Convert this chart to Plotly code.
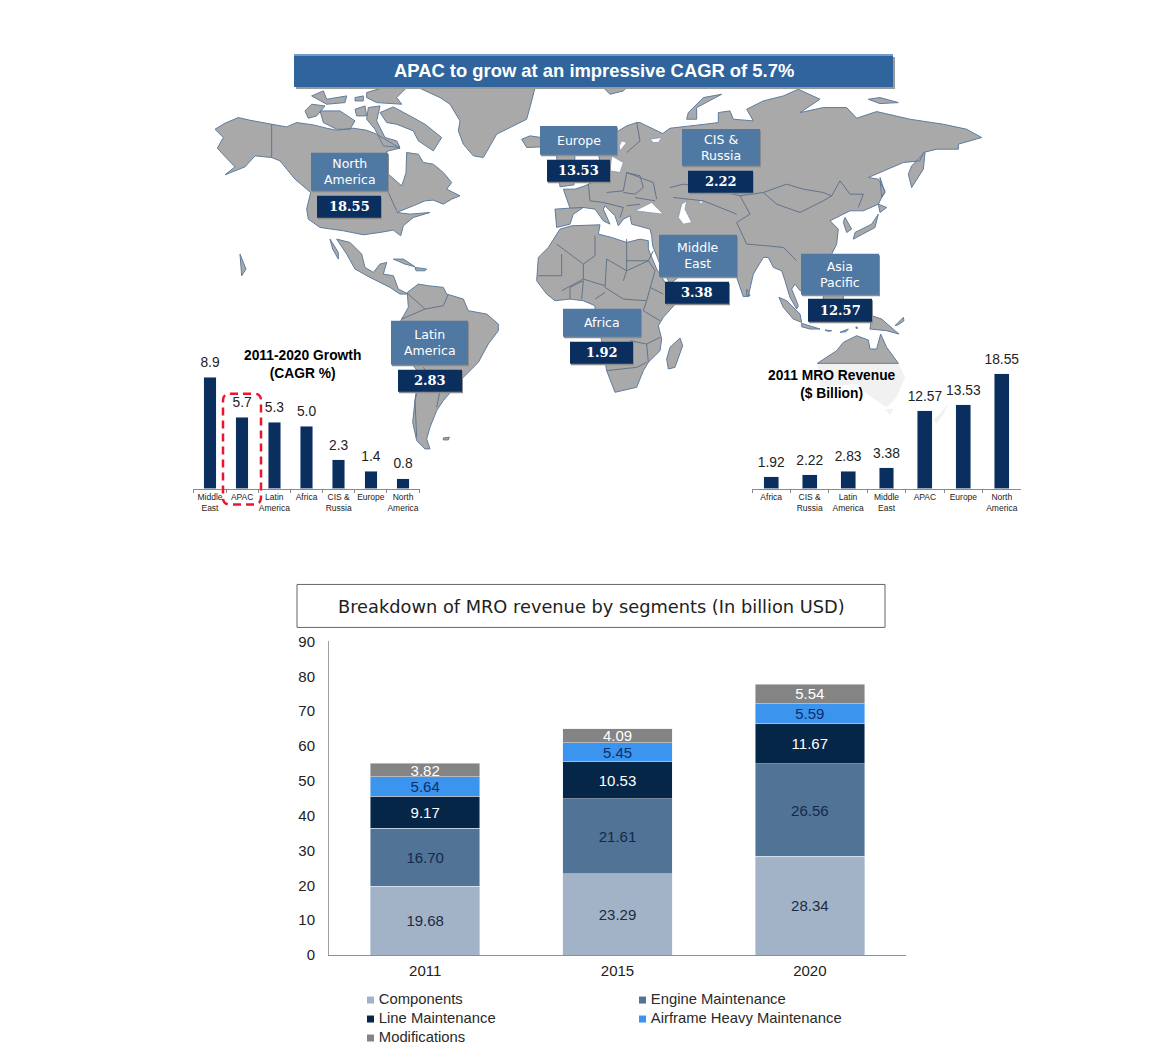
import plotly.graph_objects as go

W, H = 1175, 1058
# the page draws the figure between these two rows of the window
TOP, BOTTOM = 8, 1050

# ---------- data ----------
cagr_regions = ["Middle<br>East", "APAC", "Latin<br>America", "Africa", "CIS &<br>Russia", "Europe", "North<br>America"]
cagr_values = [8.9, 5.7, 5.3, 5.0, 2.3, 1.4, 0.8]

revenue_regions = ["Africa", "CIS &<br>Russia", "Latin<br>America", "Middle<br>East", "APAC", "Europe", "North<br>America"]
revenue_values = [1.92, 2.22, 2.83, 3.38, 12.57, 13.53, 18.55]

years = ["2011", "2015", "2020"]
segment_names = ["Components", "Engine Maintenance", "Line Maintenance", "Airframe Heavy Maintenance", "Modifications"]
components = [19.68, 23.29, 28.34]
engine_maintenance = [16.70, 21.61, 26.56]
line_maintenance = [9.17, 10.53, 11.67]
airframe_heavy = [5.64, 5.45, 5.59]
modifications = [3.82, 4.09, 5.54]

callout_names = ["North<br>America", "Europe", "CIS &<br>Russia", "Middle<br>East", "Asia<br>Pacific", "Africa", "Latin<br>America"]
callout_values = ["18.55", "13.53", "2.22", "3.38", "12.57", "1.92", "2.83"]

# ---------- styling ----------
SERIF = "DejaVu Serif"
SANS = "Liberation Sans"
NAVY = "#0A2F5F"
seg_colors = ["#A3B3C7", "#517396", "#062648", "#3B94EE", "#848484"]
seg_text = ["#1C2B3F", "#13294A", "#FFFFFF", "#0D2E6E", "#FFFFFF"]
legend_cells = [(367, 1000), (639, 1000), (367, 1019), (639, 1019), (367, 1038)]

# label box, value box (x0, y0, x1, y1 in page pixels)
callout_boxes = [
    ((311, 152, 388, 190), (317, 195, 381, 217)),
    ((540, 125, 617, 154), (547, 159, 610, 181)),
    ((682, 128, 760, 165), (688, 170, 753, 192)),
    ((659, 234, 737, 276), (665, 281, 729, 303)),
    ((801, 253, 879, 294), (808, 298, 872, 321)),
    ((563, 308, 641, 336), (570, 341, 633, 363)),
    ((391, 320, 468, 364), (398, 369, 462, 391)),
]


def Z(ox, oy, pts):
    return [(ox + x / 3, oy + y / 3) for x, y in pts]


# ---------- map outlines (decorative background, page pixels via crop origins) ----------
north_america = Z(180, 40, [(105,265),(135,247),(175,230),(210,238),(275,250),(320,258),(350,245),(400,252),(440,262),(470,268),(520,262),(560,268),(590,280),(620,298),(640,312),(660,322),(625,330),(605,345),(625,400),(665,435),(672,415),(678,395),(680,335),(715,340),(730,365),(760,370),(790,395),(815,425),(800,445),(840,465),(815,475),(790,490),(760,478),(735,480),(700,495),(650,515),(690,520),(750,515),(700,530),(670,555),(662,585),(640,568),(600,575),(550,582),(490,570),(420,560),(385,535),(380,505),(392,455),(345,415),(300,360),(275,350),(225,345),(195,378),(135,402),(165,378),(140,352),(112,322),(130,290)])
arctic = [
    Z(180, 40, p) for p in [
        [(600,215),(640,198),(690,225),(735,250),(785,290),(760,330),(715,300),(700,270),(650,250),(620,245)],
        [(420,210),(480,210),(525,240),(510,265),(470,265),(430,245)],
        [(375,210),(395,190),(435,195),(410,225),(385,232)],
        [(560,155),(610,140),(680,140),(650,170),(665,190),(590,185),(560,170)],
        [(525,170),(550,165),(550,180),(525,180)],
        [(525,205),(555,195),(560,225),(530,225)],
        [(395,165),(430,150),(440,175),(500,165),(495,185),(440,190)],
        [(565,200),(600,195),(590,240),(615,290),(650,300),(660,320),(610,315),(585,265),(560,235)],
        [(715,140),(1065,140),(1055,180),(1040,235),(990,260),(950,280),(910,350),(880,345),(850,310),(835,270),(840,240),(810,190),(780,170)],
        [(1025,295),(1050,285),(1085,290),(1085,318),(1040,320)],
        [(180,640),(198,685),(185,705)],
    ]
]
americas_south = [
    Z(330, 230, p) for p in [
        [(0,25),(25,65),(25,85),(8,55)],
        [(20,25),(60,35),(95,70),(105,110),(130,125),(150,100),(170,95),(160,130),(190,135),(205,175),(225,185),(235,190),(210,190),(180,170),(150,155),(120,140),(75,115),(50,70)],
        [(190,85),(220,85),(255,108),(225,100)],
        [(255,110),(290,115),(285,120),(258,120)],
        [(232,185),(265,160),(295,165),(340,170),(350,190),(400,205),(415,240),(470,250),(505,280),(505,300),(475,340),(445,395),(400,440),(365,480),(340,510),(320,540),(300,590),(290,625),(300,655),(285,655),(260,630),(248,575),(255,510),(270,450),(265,425),(225,370),(205,290),(215,265),(235,230)],
        [(340,622),(358,620),(355,628),(340,628)],
    ]
]
eurasia = (
    Z(590, 40, [(150,245),(218,278),(240,262),(270,258),(345,250),(385,245),(385,215),(420,210),(430,235),(490,240),(470,205),(520,180),(580,165),(625,145),(690,175),(630,215),(700,200),(770,200),(800,232),(860,212),(960,235),(1060,250),(1130,265),(1175,290),(1105,310),(1105,325),(1040,325),(1000,335),(990,360),(940,365),(860,400),(835,410),(865,415),(885,450),(865,490),(820,510),(780,510),(720,540),(745,565),(740,610),(720,650)])
    + Z(700, 220, [(390,100),(350,150),(340,215),(300,210),(285,190),(275,205),(295,255),(290,265),(270,230),(255,180),(245,150),(220,140),(205,110),(190,110),(160,160),(145,225),(130,228),(110,170),(100,130)])
    + [(700, 262), (680, 275), (668, 285)]
    + Z(520, 230, [(445,150),(420,100),(398,45)])
    + Z(520, 120, [(395,345),(390,325),(335,310),(330,285),(310,295),(295,315),(285,285),(255,255),(250,265),(270,310),(250,300),(225,265),(190,260),(160,280),(150,310),(110,320),(105,265),(150,262),(130,205),(165,205),(195,195),(245,170),(240,120),(235,100),(295,30),(320,15),(350,5)])
)
africa = (
    Z(520, 120, [(120,325),(155,315),(240,312),(235,340),(275,350),(320,365),(360,355),(385,360)])
    + Z(520, 230, [(385,55),(410,115),(435,155),(470,215),(430,260),(415,285),(425,325),(420,360),(385,395),(370,420),(350,470),(285,485),(260,420),(245,330),(225,240),(225,225),(190,210),(150,205),(105,210),(80,190),(50,150),(55,80),(85,50),(105,20)])
)
islands = (
    [Z(520, 230, [(480,322),(488,345),(465,410),(445,415),(440,385),(450,350)])]
    + [Z(700, 220, p) for p in [
        [(140,205),(150,225),(140,228)],
        [(237,230),(260,240),(300,280),(305,305),(280,295),(250,260)],
        [(305,308),(360,325),(330,325),(305,318)],
        [(370,225),(430,225),(430,240),(370,240)],
        [(375,328),(395,330),(385,332)],
        [(420,335),(445,325),(438,333)],
        [(468,318),(474,322),(468,323)],
        [(515,285),(545,295),(585,330),(597,340),(560,330),(510,325)],
        [(585,315),(610,290),(612,300),(595,312)],
        [(352,428),(410,390),(430,365),(470,345),(505,358),(510,385),(530,385),(542,340),(560,380),(595,428)],
    ]]
    + [Z(590, 40, p) for p in [
        [(1005,335),(1000,385),(965,440),(955,400),(965,375)],
        [(865,520),(855,560),(790,595),(795,575),(845,550)],
        [(865,490),(890,500),(870,515)],
        [(870,410),(885,455),(875,470)],
        [(765,530),(785,565),(770,575),(760,545)],
        [(395,160),(340,170),(295,215),(290,235),(320,235),(320,200)],
        [(40,140),(110,140),(100,150),(60,160)],
        [(835,175),(870,170),(925,185),(870,188)],
    ]]
    + [[(556, 150), (575, 150), (574, 184), (560, 186)]]
)
faded_land = [
    Z(700, 220, [(352,428),(595,428),(615,470),(590,530),(560,560),(500,520),(470,490),(360,500)]),
    Z(700, 220, [(555,565),(580,565),(570,585)]),
    Z(590, 270, [(1030,450),(1075,400),(1060,432),(1040,458)]),
]
seas = [
    Z(590, 40, [(180,295),(215,290),(205,305),(190,305)]),
    Z(520, 120, [(305,60),(320,65),(300,90),(298,75)]),
    Z(520, 120, [(275,105),(310,125),(300,155),(270,150)]),
    Z(520, 120, [(345,270),(395,245),(430,280),(380,275)]),
    Z(520, 120, [(485,250),(500,240),(495,265),(515,305),(490,310),(475,290)]),
    Z(520, 120, [(535,240),(550,240),(545,250)]),
]
borders = (
    [Z(590, 40, p) for p in [
        [(520,455),(590,430),(640,445),(700,455),(725,465),(700,480),(630,515),(560,490),(520,455)],
        [(240,440),(280,430),(370,445),(450,465),(520,455)],
        [(450,465),(480,520),(440,545),(470,610),(530,615),(580,620),(620,660)],
        [(725,465),(750,420),(780,460),(820,460),(805,500)],
        [(250,470),(340,480),(440,520)],
    ]]
    + [Z(180, 40, p) for p in [[(275,250),(275,350)], [(625,455),(650,510)]]]
    + [Z(330, 230, p) for p in [
        [(235,190),(285,235),(340,225),(355,190)],
        [(215,265),(285,235)],
        [(280,410),(330,480),(320,530)],
        [(265,430),(255,510),(260,620)],
    ]]
    + [Z(520, 230, p) for p in [
        [(110,40),(190,100),(225,75),(225,15)],
        [(320,25),(320,120),(260,85),(255,170),(310,205)],
        [(320,90),(385,90),(400,60)],
        [(310,150),(320,120),(385,90),(405,120),(380,210),(310,205)],
        [(190,100),(190,145),(125,180)],
        [(125,70),(125,135),(55,135)],
        [(190,145),(255,165)],
        [(150,205),(150,170),(190,150),(185,205)],
        [(225,205),(255,185)],
        [(380,210),(370,240),(420,270)],
        [(430,190),(390,170)],
        [(260,420),(350,410),(380,395)],
        [(330,330),(380,340),(420,320)],
        [(380,340),(385,395)],
    ]]
    + [Z(520, 120, p) for p in [
        [(205,190),(210,240),(250,245)],
        [(260,215),(310,210),(320,155),(360,165),(370,200),(345,220),(310,215)],
        [(345,230),(405,240)],
        [(320,255),(360,250)],
        [(250,245),(310,260),(300,290)],
        [(150,262),(190,260)],
        [(320,155),(400,185),(410,235)],
        [(350,5),(360,60),(320,95)],
    ]]
)


def flat(polys):
    xs, ys = [], []
    for p in polys:
        for x, y in list(p) + [p[0]]:
            xs.append(x)
            ys.append(y)
        xs.append(None)
        ys.append(None)
    return xs, ys


def flat_open(lines):
    xs, ys = [], []
    for p in lines:
        for x, y in p:
            xs.append(x)
            ys.append(y)
        xs.append(None)
        ys.append(None)
    return xs, ys


def px(v):
    return v / W


def py(v):
    return 1 - (v - TOP) / (BOTTOM - TOP)


fig = go.Figure()

# --- map layer on a page-sized hidden axis pair ---
LAND = "#A9A9A9"
fx, fy = flat(faded_land)
fig.add_trace(go.Scatter(x=fx, y=fy, mode="lines", fill="toself", fillcolor="#F1F1F1", line=dict(color="#F1F1F1", width=0), hoverinfo="skip", showlegend=False))
lx, ly = flat([north_america, eurasia, africa] + arctic + americas_south + islands)
fig.add_trace(go.Scatter(x=lx, y=ly, mode="lines", fill="toself", fillcolor=LAND, line=dict(color="#5F7C9E", width=1), hoverinfo="skip", showlegend=False))
sx, sy = flat(seas)
fig.add_trace(go.Scatter(x=sx, y=sy, mode="lines", fill="toself", fillcolor="#FFFFFF", line=dict(color="#7F93AA", width=0.7), hoverinfo="skip", showlegend=False))
bx, by = flat_open(borders)
fig.add_trace(go.Scatter(x=bx, y=by, mode="lines", line=dict(color="#64738A", width=1), hoverinfo="skip", showlegend=False))

# legend swatches + names on the page axis
for i, (name, color, (cx, cy)) in enumerate(zip(segment_names, seg_colors, legend_cells)):
    fig.add_trace(go.Scatter(x=[cx + 3.5], y=[cy], mode="markers+text", text=["\u2009" + name], textposition="middle right",
                             marker=dict(symbol="square", size=7, color=color),
                             textfont=dict(family=SANS, size=14.8, color="#2A2A2A"),
                             hoverinfo="skip", showlegend=False))

# --- CAGR bars ---
fig.add_trace(go.Bar(x=cagr_regions, y=cagr_values, xaxis="x2", yaxis="y2", marker=dict(color=NAVY), width=0.39, showlegend=False))
fig.add_trace(go.Scatter(x=cagr_regions, y=cagr_values, xaxis="x2", yaxis="y2", mode="markers+text", text=[f"{v:.1f}" for v in cagr_values],
                         marker=dict(size=9, opacity=0), textposition="top center", cliponaxis=False,
                         textfont=dict(family=SANS, size=13.8, color="#222222"),
                         hoverinfo="skip", showlegend=False))
# --- revenue bars ---
fig.add_trace(go.Bar(x=revenue_regions, y=revenue_values, xaxis="x3", yaxis="y3", marker=dict(color=NAVY), width=0.39, showlegend=False))
fig.add_trace(go.Scatter(x=revenue_regions, y=revenue_values, xaxis="x3", yaxis="y3", mode="markers+text", text=[f"{v:.2f}" for v in revenue_values],
                         marker=dict(size=9, opacity=0), textposition="top center", cliponaxis=False,
                         textfont=dict(family=SANS, size=13.8, color="#222222"),
                         hoverinfo="skip", showlegend=False))
# --- stacked segments ---
for name, vals, color, tcol in zip(segment_names, [components, engine_maintenance, line_maintenance, airframe_heavy, modifications], seg_colors, seg_text):
    fig.add_trace(go.Bar(x=years, y=vals, name=name, xaxis="x4", yaxis="y4", marker=dict(color=color), width=0.57,
                         text=[f"{v:.2f}" for v in vals], textposition="inside", insidetextanchor="middle", textangle=0,
                         insidetextfont=dict(family=SANS, size=15, color=tcol), showlegend=False))

hidden = dict(visible=False, fixedrange=True)
small_tick = dict(family=SANS, size=8.5, color="#222222")
fig.update_layout(
    width=W, height=H, margin=dict(l=0, r=0, t=0, b=0), paper_bgcolor="white", plot_bgcolor="rgba(0,0,0,0)",
    barmode="stack", bargap=0.43, uniformtext=dict(minsize=15, mode="show"),
    xaxis=dict(range=[0, W], domain=[0, 1], **hidden),
    yaxis=dict(range=[BOTTOM, TOP], domain=[0, 1], **hidden),
    xaxis2=dict(domain=[px(193), px(420)], anchor="y2", type="category", tickson="boundaries", ticks="outside", ticklen=3,
                tickcolor="#8A8A8A", linecolor="#8A8A8A", showline=True, tickfont=small_tick, tickangle=0, showgrid=False, fixedrange=True),
    yaxis2=dict(domain=[py(488), py(363)], anchor="x2", range=[0, 10], visible=False, fixedrange=True),
    xaxis3=dict(domain=[px(752), px(1021)], anchor="y3", type="category", tickson="boundaries", ticks="outside", ticklen=3,
                tickcolor="#8A8A8A", linecolor="#8A8A8A", showline=True, tickfont=small_tick, tickangle=0, showgrid=False, fixedrange=True),
    yaxis3=dict(domain=[py(488), py(364)], anchor="x3", range=[0, 20], visible=False, fixedrange=True),
    xaxis4=dict(domain=[px(329), px(906)], anchor="y4", type="category", ticks="", showline=True, linecolor="#8F8F8F", linewidth=1,
                tickfont=dict(family=SANS, size=15, color="#222222"), ticklabelstandoff=2, showgrid=False, fixedrange=True),
    yaxis4=dict(domain=[py(955), py(641)], anchor="x4", range=[0, 90], dtick=10, showline=True, linecolor="#A0A0A0", linewidth=1,
                showgrid=False, ticks="outside", ticklen=10, tickcolor="rgba(0,0,0,0)",
                tickfont=dict(family=SANS, size=15, color="#222222"), fixedrange=True),
)

shapes = []
annotations = []


def rect(x0, y0, x1, y1, fill, line=None):
    shapes.append(dict(type="rect", xref="x", yref="y", x0=x0, y0=y0, x1=x1, y1=y1, fillcolor=fill,
                       line=dict(color=line or fill, width=1 if line else 0)))


def label(x, y, text, family=SANS, size=12, color="#000000"):
    annotations.append(dict(xref="x", yref="y", x=x, y=y, text=text, showarrow=False, xanchor="center", yanchor="middle",
                            font=dict(family=family, size=size, color=color)))


# headline banner
rect(296, 56, 895, 88, "#9A9A9A")
rect(294, 53, 893, 86, "#2F659C")
rect(294, 53, 893, 55, "#6E9CCB")
label(593.5, 70, "<b>APAC to grow at an impressive CAGR of 5.7%</b>", size=18.4, color="#FFFFFF")

# map callouts
for name, value, (a, b) in zip(callout_names, callout_values, callout_boxes):
    rect(a[0] + 1, a[1] + 1.5, a[2] + 1, a[3] + 1.5, "#8C8C8C")
    rect(*a, "#4F78A3")
    label((a[0] + a[2]) / 2, (a[1] + a[3]) / 2, name, family="DejaVu Sans", size=12.5, color="#FFFFFF")
    rect(b[0] + 1, b[1] + 1.5, b[2] + 1, b[3] + 1.5, "#8C8C8C")
    rect(*b, NAVY)
    label((b[0] + b[2]) / 2, (b[1] + b[3]) / 2, f"<b>{value}</b>", family=SERIF, size=13, color="#FFFFFF")

# small chart headings
label(302.5, 364, "<b>2011-2020 Growth<br>(CAGR %)</b>", size=13.8)
label(832, 384, "<b>2011 MRO Revenue<br>($ Billion)</b>", size=13.8)

# dashed highlight around APAC
shapes.append(dict(type="path", xref="x", yref="y",
                   path="M 230 393 L 254 393 Q 261 393 261 400 L 261 497 Q 261 504 254 504 L 230 504 Q 223 504 223 497 L 223 400 Q 223 393 230 393 Z",
                   line=dict(color="#E8172B", width=2.5, dash="8px,5px"), fillcolor="rgba(0,0,0,0)"))

# bottom chart title box
rect(297, 584, 885, 627, "#FFFFFF", "#666666")
label(591, 606, "Breakdown of MRO revenue by segments (In billion USD)", family="DejaVu Sans", size=17.8, color="#222222")

fig.update_layout(shapes=shapes, annotations=annotations)

fig.write_html("out.html", config=dict(displayModeBar=False),
               post_script="document.body.style.margin='0';document.documentElement.style.overflow='hidden';")
